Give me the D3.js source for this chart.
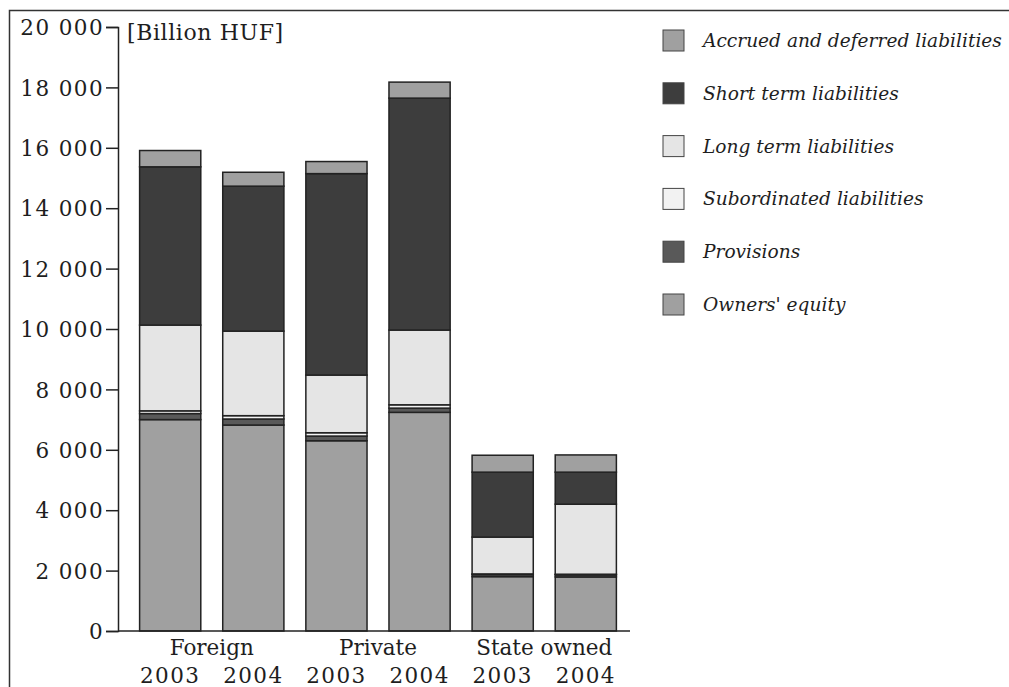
<!DOCTYPE html>
<html>
<head>
<meta charset="utf-8">
<script src="https://cdn.jsdelivr.net/npm/d3@7/dist/d3.min.js"></script>
<style>
  html, body { margin: 0; padding: 0; background: #fff; }
  svg { display: block; }
  text { font-family: "DejaVu Serif", serif; fill: #1e1e1e; }
</style>
</head>
<body>
<svg id="chart" width="1009" height="687"></svg>
<script>
// Bank balance sheet liabilities by ownership group, billion HUF
const groups = ["Foreign", "Private", "State owned"];
const years = ["2003", "2004"];

// stacking order: bottom to top
const seriesNames = [
  "Owners' equity",
  "Provisions",
  "Subordinated liabilities",
  "Long term liabilities",
  "Short term liabilities",
  "Accrued and deferred liabilities"
];
const seriesColors = ["#a0a0a0", "#595959", "#f2f2f2", "#e5e5e5", "#3d3d3d", "#a0a0a0"];

// one value per bar: Foreign 2003, Foreign 2004, Private 2003, Private 2004, State 2003, State 2004
const ownersEquity   = [7000, 6820, 6300, 7240, 1800, 1790];
const provisions     = [ 200,  200,  155,  140,   70,   70];
const subordinated   = [  90,  110,  110,  110,   20,   20];
const longTerm       = [2840, 2800, 1910, 2475, 1220, 2320];
const shortTerm      = [5240, 4800, 6670, 7680, 2150, 1060];
const accrued        = [ 540,  460,  400,  530,  560,  570];

const yTicks = [0, 2000, 4000, 6000, 8000, 10000, 12000, 14000, 16000, 18000, 20000];

const seriesValues = [ownersEquity, provisions, subordinated, longTerm, shortTerm, accrued];
const barKeys = [];
groups.forEach(g => years.forEach(y => barKeys.push(g + "|" + y)));

const rows = barKeys.map((k, i) => {
  const r = { key: k };
  seriesNames.forEach((s, j) => { r[s] = seriesValues[j][i]; });
  return r;
});

const svg = d3.select("#chart");

// outer frame (left and top edges)
svg.append("path")
  .attr("d", "M9.5,687 V10.5 H1009")
  .attr("fill", "none")
  .attr("stroke", "#333")
  .attr("stroke-width", 1.5);

const x = d3.scaleBand()
  .domain(barKeys)
  .range([118, 638])
  .paddingInner(0.264)
  .paddingOuter(0.26);

const y = d3.scaleLinear()
  .domain([0, 20000])
  .range([631, 27]);

const stack = d3.stack().keys(seriesNames);
const stacked = stack(rows);

const fmt = v => d3.format(",")(v).replace(/,/g, " ");

// bars
const layers = svg.append("g").selectAll("g")
  .data(stacked)
  .join("g")
  .attr("fill", (d, i) => seriesColors[i]);

layers.selectAll("rect")
  .data(d => d)
  .join("rect")
  .attr("x", d => x(d.data.key))
  .attr("width", x.bandwidth())
  .attr("y", d => y(d[1]))
  .attr("height", d => y(d[0]) - y(d[1]))
  .attr("stroke", "#222")
  .attr("stroke-width", 1.5);

// y axis
const yAxis = d3.axisLeft(y)
  .tickValues(yTicks)
  .tickSize(12)
  .tickPadding(2)
  .tickFormat(fmt);

const gy = svg.append("g")
  .attr("transform", "translate(118,0)")
  .call(yAxis);
gy.select(".domain").attr("stroke", "#222").attr("stroke-width", 1.5);
gy.selectAll(".tick line").attr("stroke", "#222").attr("stroke-width", 1.5);
gy.selectAll(".tick text")
  .attr("font-family", "DejaVu Serif, serif")
  .attr("font-size", 21.5)
  .attr("letter-spacing", "1.4px")
  .attr("fill", "#1e1e1e")
  .attr("dy", "0.36em");

// x baseline
svg.append("line")
  .attr("x1", 118).attr("x2", 630)
  .attr("y1", y(0)).attr("y2", y(0))
  .attr("stroke", "#222")
  .attr("stroke-width", 1.5);

// unit label
svg.append("text")
  .attr("x", 127)
  .attr("y", 40)
  .attr("font-size", 22)
  .attr("letter-spacing", "0.6px")
  .text("[Billion HUF]");

// group and year labels
groups.forEach(g => {
  const a = x(g + "|" + years[0]);
  const b = x(g + "|" + years[1]) + x.bandwidth();
  svg.append("text")
    .attr("x", (a + b) / 2)
    .attr("y", 655)
    .attr("text-anchor", "middle")
    .attr("font-size", 21.5)
    .text(g);
});
barKeys.forEach(k => {
  svg.append("text")
    .attr("x", x(k) + x.bandwidth() / 2)
    .attr("y", 683)
    .attr("text-anchor", "middle")
    .attr("font-size", 21.5)
    .attr("letter-spacing", "1.4px")
    .text(k.split("|")[1]);
});

// legend, topmost series first
const legendOrder = d3.range(seriesNames.length).reverse();
const legend = svg.append("g").selectAll("g")
  .data(legendOrder)
  .join("g")
  .attr("transform", (d, i) => `translate(663,${30 + i * 52.8})`);

legend.append("rect")
  .attr("width", 21)
  .attr("height", 21)
  .attr("fill", d => seriesColors[d])
  .attr("stroke", "#444")
  .attr("stroke-width", 1);

legend.append("text")
  .attr("x", 40)
  .attr("y", 17)
  .attr("font-size", 18.6)
  .attr("font-style", "italic")
  .text(d => seriesNames[d]);
</script>
</body>
</html>
